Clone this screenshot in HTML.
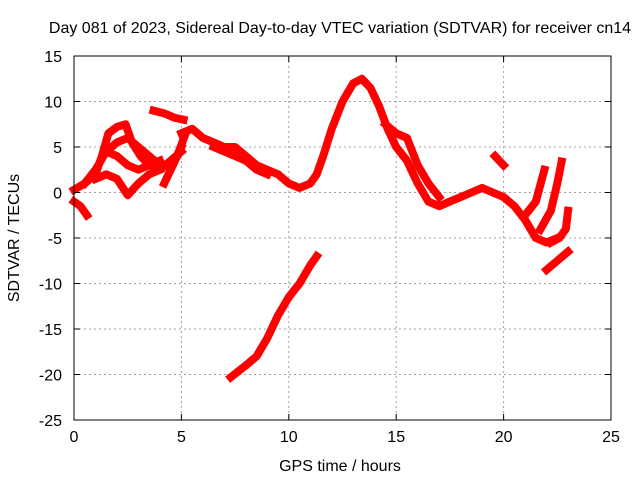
<!DOCTYPE html>
<html><head><meta charset="utf-8"><style>
html,body{margin:0;padding:0;background:#fff}
svg text{font-family:"Liberation Sans",sans-serif;font-size:16px;fill:#000}
</style></head><body>
<svg id="chart" width="640" height="480" viewBox="0 0 640 480" xmlns="http://www.w3.org/2000/svg">
<text x="340" y="33" text-anchor="middle">Day 081 of 2023, Sidereal Day-to-day VTEC variation (SDTVAR) for receiver cn14</text>
<text x="340" y="471" text-anchor="middle">GPS time / hours</text>
<text transform="translate(19,238) rotate(-90)" text-anchor="middle">SDTVAR / TECUs</text>
<g id="grid"></g><g id="series"></g><g id="axes"></g>
</svg>
<script>
const xTicks=[0,5,10,15,20,25];
const yTicks=[15,10,5,0,-5,-10,-15,-20,-25];
const trackA=[[0,0.3],[0.5,1],[1,2],[1.3,4],[1.6,6.5],[2,7.2],[2.4,7.5],[2.7,5.5],[3.1,4],[3.5,3],[4,2.5],[4.5,3.5],[5,4.5]];
const trackB=[[0.5,1],[1,2.5],[1.5,4.5],[2,4],[2.5,3],[3,2.5],[3.5,3],[4,3.5]];
const trackC=[[1,1.5],[1.5,2],[2,1.5],[2.5,-0.3],[3,1],[3.5,2],[4,2.5]];
const trackD=[[1.5,4.5],[2,5.5],[2.5,6],[3,5],[3.5,4],[4,3]];
const trackE=[[3.7,9],[4.2,8.7],[4.7,8.2],[5.1,8]];
const trackF=[[4.4,2],[4.8,4],[5.2,6.5]];
const trackG=[[4.2,1],[4.6,3],[5,5]];
const trackMain=[[5,6.5],[5.5,7],[6,6],[6.5,5.5],[7,5],[7.5,5],[8,4],[8.5,3],[9,2.5],[9.5,2],[10,1],[10.5,0.5],[11,1],[11.3,2],[11.6,4],[12,7],[12.5,10],[13,12],[13.4,12.5],[13.8,11.5],[14.2,9.5],[14.6,7],[15,5],[15.5,3.5],[16,1],[16.5,-1],[17,-1.5],[17.5,-1],[18,-0.5],[18.5,0],[19,0.5],[19.5,0],[20,-0.5],[20.5,-1.5],[21,-3],[21.5,-5],[22,-5.5],[22.5,-5]];
const trackLower=[[6.5,5],[7,4.5],[7.5,4],[8,3.5],[8.5,2.5],[9,2]];
const trackBranch=[[14.5,7.5],[15,6.5],[15.5,6],[16,3],[16.5,1],[17,-0.5]];
const trackStart=[[0,-1],[0.3,-1.5],[0.6,-2.5]];
const trackLong=[[7.3,-20.3],[8,-19],[8.5,-18],[9,-16],[9.5,-13.5],[10,-11.5],[10.5,-10],[11,-8],[11.3,-7]];
const trackH=[[19.6,4],[20,3]];
const trackI=[[21.1,-2.2],[21.5,-1],[21.9,2.5]];
const trackJ=[[21.7,-4.1],[22.2,-2],[22.5,1],[22.7,3.4]];
const trackK=[[22.2,-5.5],[22.6,-5],[22.9,-4],[23,-2]];
const trackL=[[22,-8.5],[22.5,-7.5],[23,-6.5]];
const tracks=[trackA,trackB,trackC,trackD,trackE,trackF,trackG,trackMain,trackLower,trackBranch,trackStart,trackLong,trackH,trackI,trackJ,trackK,trackL];
const X0=74,X1=611,Y0=56,Y1=420;
const xs=v=>X0+(v-0)/25*(X1-X0);
const ys=v=>Y0+(15-v)/40*(Y1-Y0);
const NS="http://www.w3.org/2000/svg";
const mk=(t,a)=>{const e=document.createElementNS(NS,t);for(const k in a)e.setAttribute(k,a[k]);return e;};
const grid=document.getElementById('grid'),axes=document.getElementById('axes'),ser=document.getElementById('series');
xTicks.forEach(t=>{
 if(t>0&&t<25){const g=mk('line',{x1:xs(t),x2:xs(t),y1:Y0,y2:Y1,stroke:'#a0a0a0','stroke-dasharray':'2,3'});
 
 grid.appendChild(g);}
 axes.appendChild(mk('line',{x1:xs(t),x2:xs(t),y1:Y1,y2:Y1-6,stroke:'#000'}));
 axes.appendChild(mk('line',{x1:xs(t),x2:xs(t),y1:Y0,y2:Y0+6,stroke:'#000'}));
 const l=mk('text',{x:xs(t),y:Y1+22,'text-anchor':'middle'});l.textContent=t;
 
 axes.appendChild(l);
});
yTicks.forEach(t=>{
 if(t<15&&t>-25){const g=mk('line',{x1:X0,x2:X1,y1:ys(t),y2:ys(t),stroke:'#a0a0a0','stroke-dasharray':'2,3'});
 
 grid.appendChild(g);}
 axes.appendChild(mk('line',{x1:X0,x2:X0+6,y1:ys(t),y2:ys(t),stroke:'#000'}));
 axes.appendChild(mk('line',{x1:X1,x2:X1-6,y1:ys(t),y2:ys(t),stroke:'#000'}));
 const l=mk('text',{x:X0-12,y:ys(t)+6,'text-anchor':'end'});l.textContent=t;
 
 axes.appendChild(l);
});
const fr=mk('rect',{x:X0,y:Y0,width:X1-X0,height:Y1-Y0,fill:'none',stroke:'#000'});

axes.appendChild(fr);
tracks.forEach(tr=>{
 const p=mk('polyline',{points:tr.map(d=>xs(d[0])+','+ys(d[1])).join(' '),fill:'none',stroke:'#ff0000','stroke-width':8,'stroke-linejoin':'round','stroke-linecap':'square'});
 
 ser.appendChild(p);
});
</script>
</body></html>
